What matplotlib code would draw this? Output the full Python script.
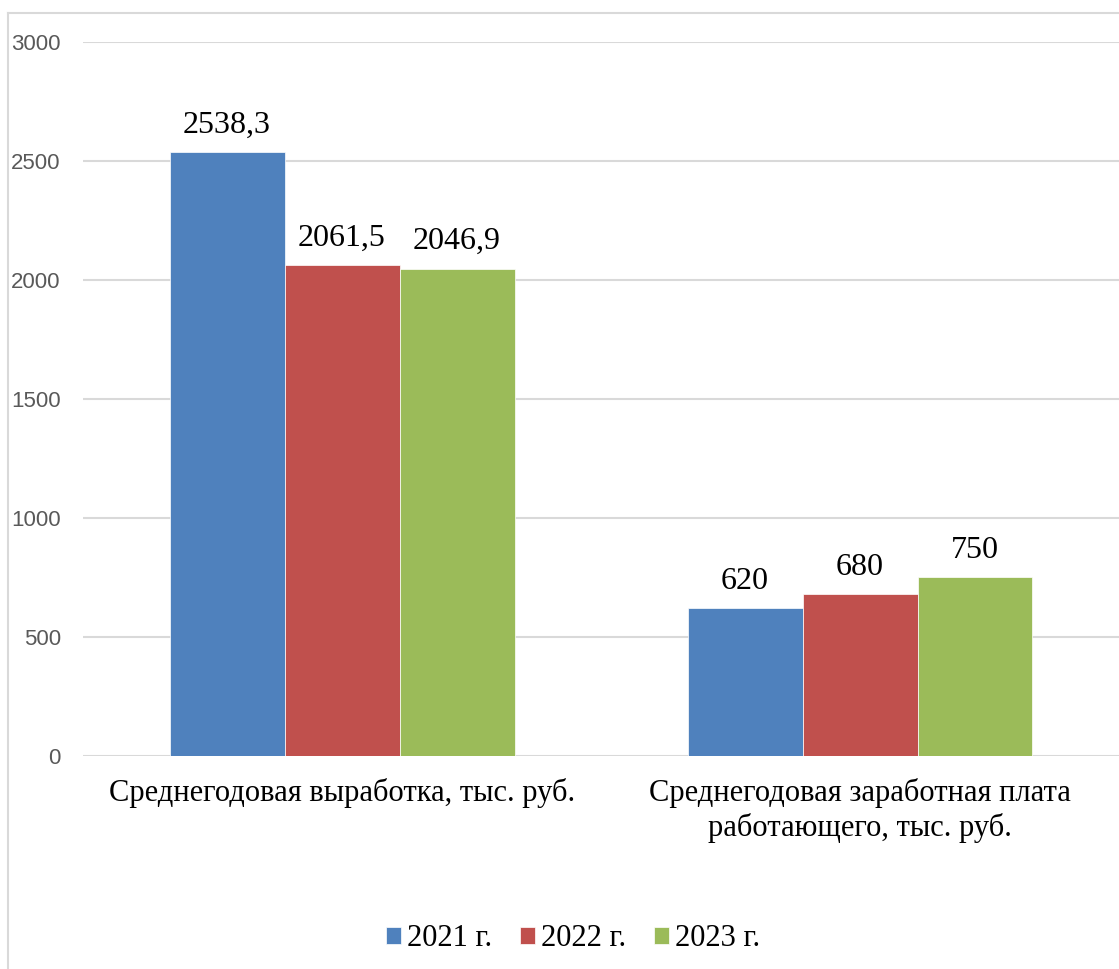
import matplotlib
matplotlib.use("Agg")
import matplotlib.pyplot as plt
import numpy as np
from matplotlib.lines import Line2D

categories = ["Среднегодовая выработка, тыс. руб.",
              "Среднегодовая заработная плата\nработающего, тыс. руб."]
series_names = ["2021 г.", "2022 г.", "2023 г."]
values_2021 = [2538.3, 620]
values_2022 = [2061.5, 680]
values_2023 = [2046.9, 750]
labels_2021 = ["2538,3", "620"]
labels_2022 = ["2061,5", "680"]
labels_2023 = ["2046,9", "750"]
yticks = [0, 500, 1000, 1500, 2000, 2500, 3000]

colors = ["#4F81BD", "#C0504D", "#9BBB59"]
serif = "Liberation Serif"
sans = "Liberation Sans"

fig = plt.figure(figsize=(11.19, 9.69), dpi=100)
ax = fig.add_axes([0.0742, 0.2198, 0.9258, 0.7369])

x = np.arange(len(categories))
w = 0.222
all_vals = [values_2021, values_2022, values_2023]
all_labels = [labels_2021, labels_2022, labels_2023]
for i, (vals, labs) in enumerate(zip(all_vals, all_labels)):
    bars = ax.bar(x + (i - 1) * w, vals, w, color=colors[i], label=series_names[i], zorder=3,
                  edgecolor="white", linewidth=0.5)
    for b, lab in zip(bars, labs):
        ax.annotate(lab, (b.get_x() + b.get_width() / 2, b.get_height()),
                    xytext=(0, 9), textcoords="offset points", ha="center", va="bottom",
                    fontsize=23, fontfamily=serif, color="black")

ax.set_xlim(-0.5, 1.5)
ax.set_ylim(0, 3000)
ax.set_yticks(yticks)
ax.set_yticklabels([str(t) for t in yticks], fontsize=16, fontfamily=sans, color="#595959")
ax.set_xticks(x)
ax.set_xticklabels(categories, fontsize=22, fontfamily=serif, color="black", linespacing=1.2)
ax.tick_params(axis="both", length=0)
ax.tick_params(axis="x", pad=16)
ax.tick_params(axis="y", pad=16)
for s in ax.spines.values():
    s.set_visible(False)
ax.grid(axis="y", color="#D9D9D9", linewidth=1.5, zorder=0)
ax.set_axisbelow(True)

leg = fig.legend(loc="center", bbox_to_anchor=(0.512, 0.031), ncol=3, frameon=False,
                 prop={"family": serif, "size": 22}, handlelength=0.5, handleheight=0.5,
                 handletextpad=0.2, columnspacing=0.9)

# chart border (partly cropped)
fig.add_artist(Line2D([8 / 1119, 8 / 1119], [0, 1 - 13 / 969], transform=fig.transFigure,
                      color="#D9D9D9", linewidth=1.5))
fig.add_artist(Line2D([8 / 1119, 1], [1 - 13 / 969, 1 - 13 / 969], transform=fig.transFigure,
                      color="#D9D9D9", linewidth=1.5))

fig.savefig("out.png", dpi=100)
